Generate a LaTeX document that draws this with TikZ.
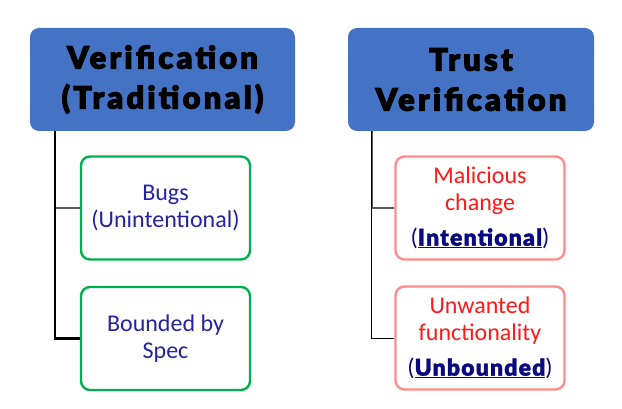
\documentclass[tikz,border=0pt]{standalone}
\usepackage{fontspec}
\setmainfont{Carlito}
\newfontfamily\headfont{Lato Black}[FakeBold=3,LetterSpace=10]
\newfontfamily\tagfont{Lato Black}[FakeBold=1.5,LetterSpace=5]
\definecolor{headblue}{RGB}{68,114,196}
\definecolor{textblue}{RGB}{36,36,160}
\definecolor{navy}{RGB}{10,10,128}
\definecolor{boxgreen}{RGB}{0,176,80}
\definecolor{boxpink}{RGB}{255,140,140}
\definecolor{textred}{RGB}{255,25,25}
\definecolor{linegray}{RGB}{90,90,90}
\begin{document}
\begin{tikzpicture}[x=1pt,y=-1pt,
    head/.style={fill=headblue,rounded corners=9pt,align=center,inner sep=0pt,
        minimum height=103pt,font=\headfont\fontsize{31}{40}\selectfont},
    leaf/.style={draw,line width=2.4pt,fill=white,rounded corners=9pt,align=center,inner sep=0pt,
        minimum width=169pt,minimum height=103pt,font=\fontsize{24}{27}\selectfont},
    goodleaf/.style={leaf,draw=boxgreen,text=textblue},
    badleaf/.style={leaf,draw=boxpink,text=textred},
    tag/.style={text=navy}]
        \useasboundingbox(0,0)rectangle(622,409);
        % headings
        \node[head,minimum width=265pt](vt)at(162.5,79.5){Verification\\(Traditional)};
        \node[head,minimum width=246pt](tv)at(471,79.5){Trust\\Verification};
        % leaves
        \node[goodleaf](bugs)at(165.5,208){Bugs\\(Unintentional)};
        \node[goodleaf](spec)at(165.5,338.5){Bounded by\\Spec};
        \node[badleaf](mal)at(480,208){Malicious\\change\\[8pt]{\color{navy}(\underline{\tagfont\fontsize{23}{27}\selectfont Intentional})}};
        \node[badleaf](unw)at(480,338){Unwanted\\functionality\\[8pt]{\color{navy}(\underline{\tagfont\fontsize{23}{27}\selectfont Unbounded})}};
        % connectors
        \coordinate[xshift=25pt](lt)at(vt.south west);
        \coordinate[xshift=24pt](rt)at(tv.south west);
        \draw[linegray,line width=2pt](bugs.west)-|(lt);
        \draw[line width=2.6pt](lt)|-(spec.west);
        \draw[linegray,line width=2pt](mal.west)-|(rt);
        \draw[line width=1pt](rt)|-(unw.west);
    \end{tikzpicture}
\end{document}
